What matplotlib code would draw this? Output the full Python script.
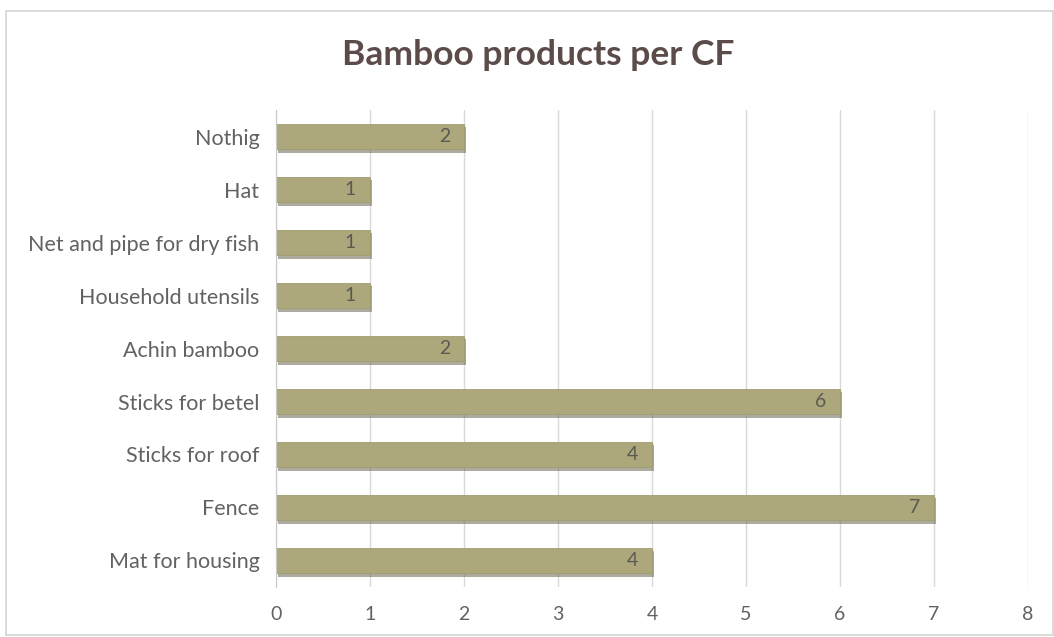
import matplotlib
matplotlib.use("Agg")
import matplotlib.pyplot as plt
import matplotlib.patheffects as pe
from matplotlib.patches import Rectangle

categories = ["Mat for housing", "Fence", "Sticks for roof", "Sticks for betel",
              "Achin bamboo", "Household utensils", "Net and pipe for dry fish",
              "Hat", "Nothig"]
counts = [4, 7, 4, 6, 2, 1, 1, 1, 2]
x_ticks = [0, 1, 2, 3, 4, 5, 6, 7, 8]

plt.rcParams["font.family"] = ["Lato", "DejaVu Sans"]

fig = plt.figure(figsize=(10.54, 6.37), dpi=100)
fig.patch.set_facecolor("white")
fig.add_artist(Rectangle((0.006, 0.003), 0.993, 0.98, transform=fig.transFigure,
                         fill=False, edgecolor="#d4d4d4", linewidth=1.2))

ax = fig.add_axes([0.2619, 0.0785, 0.7134, 0.7488])
ypos = list(range(len(categories)))
bars = ax.barh(ypos, counts, height=0.49, color="#aca87c", edgecolor="#a09c70",
               linewidth=0.6, zorder=3)
for b in bars:
    b.set_path_effects([pe.SimplePatchShadow(offset=(1.5, -2.5), shadow_rgbFace="#6b6650",
                                             alpha=0.55), pe.Normal()])

for y, v in zip(ypos, counts):
    ax.text(v - 0.15, y, str(v), ha="right", va="center", fontsize=14,
            color="#5a5a52", zorder=4)

ax.set_xlim(0, 8)
ax.set_ylim(-0.5, 8.5)
ax.set_xticks(x_ticks)
ax.set_xticklabels([str(t) for t in x_ticks])
ax.set_yticks(ypos)
ax.set_yticklabels(categories)
ax.tick_params(axis="both", length=0, labelcolor="#626262")
ax.tick_params(axis="x", pad=14, labelsize=14)
ax.tick_params(axis="y", pad=12, labelsize=15.5)
ax.grid(axis="x", color="#d9d9d9", linewidth=1.0, zorder=0)
for s in ["top", "right", "bottom"]:
    ax.spines[s].set_visible(False)
ax.spines["left"].set_color("#c8c8c8")
ax.spines["left"].set_zorder(5)

fig.text(0.511, 0.913, "Bamboo products per CF", ha="center", va="center",
         fontsize=25.5, fontweight="bold", color="#5b4b49")

fig.savefig("out.png", dpi=100)
